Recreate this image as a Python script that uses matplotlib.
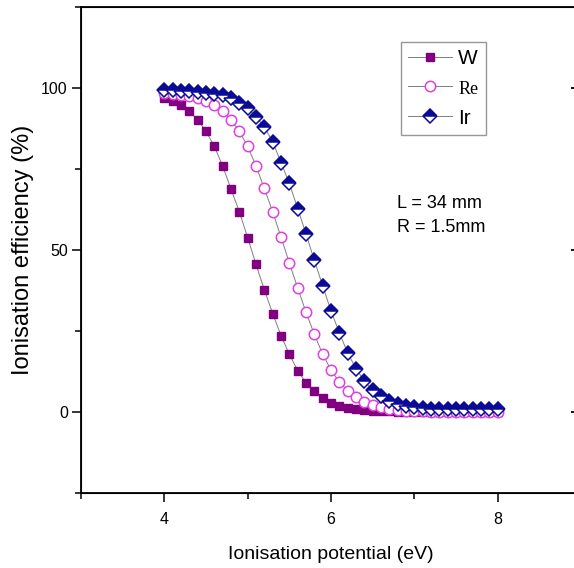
import numpy as np
import matplotlib
matplotlib.use('Agg')
import matplotlib.pyplot as plt
from matplotlib.ticker import MultipleLocator, FixedLocator

# ionisation potential (eV), 4.0 .. 8.0 in 0.1 steps
potential = np.round(np.arange(4.0, 8.01, 0.1), 1)

w_eff = [96.9, 95.9, 94.6, 92.8, 90.2, 86.6, 82.0, 75.9, 68.8, 61.8,
         53.8, 45.6, 37.7, 30.4, 23.6, 17.8, 12.8, 9.0, 6.4, 4.3,
         2.9, 2.0, 1.3, 0.9, 0.6, 0.4, 0.3, 0.2, 0.1, 0.1,
         0.1, 0.0, 0.0, 0.0, 0.0, 0.0, 0.0, 0.0, 0.0, 0.0, 0.0]
re_eff = [98.6, 98.3, 97.9, 97.4, 96.9, 95.9, 94.6, 92.8, 90.2, 86.6,
          82.0, 75.9, 69.0, 61.8, 54.0, 46.0, 38.3, 30.8, 24.0, 17.8,
          13.0, 9.2, 6.6, 4.5, 3.1, 2.1, 1.4, 0.9, 0.6, 0.4,
          0.3, 0.2, 0.1, 0.1, 0.1, 0.0, 0.0, 0.0, 0.0, 0.0, 0.0]
ir_eff = [99.4, 99.3, 99.2, 99.1, 98.9, 98.6, 98.3, 97.8, 96.9, 95.5,
          93.8, 91.1, 88.0, 83.4, 77.0, 70.6, 62.8, 55.0, 46.8, 39.0,
          31.2, 24.5, 18.2, 13.4, 9.5, 6.8, 4.8, 3.4, 2.4, 1.8,
          1.4, 1.2, 1.0, 0.9, 0.9, 0.8, 0.8, 0.8, 0.8, 0.8, 0.8]

plt.rcParams['font.family'] = ['Liberation Sans', 'DejaVu Sans']

fig = plt.figure(figsize=(5.74, 5.68), dpi=100)
# the plot frame runs past the right edge of the picture (x = 9 is off-canvas)
ax = fig.add_axes([81 / 574, 75 / 568, 500 / 574, 486 / 568])

line_kw = dict(color='#7f7f7f', linewidth=0.7)
ax.plot(potential, w_eff, marker='s', markersize=6, markerfacecolor='#800080',
        markeredgecolor='#800080', label='W', **line_kw)
ax.plot(potential, re_eff, marker='o', markersize=7.5, markerfacecolor='white',
        markeredgecolor='#e040e0', markeredgewidth=1.1, label='Re', **line_kw)
ax.plot(potential, ir_eff, marker='D', markersize=7, fillstyle='top',
        markerfacecolor='#0a0a96', markerfacecoloralt='white',
        markeredgecolor='#0a0a96', markeredgewidth=1.1, label='Ir', **line_kw)

ax.set_xlim(3, 9)
ax.set_ylim(-25, 125)
ax.xaxis.set_major_locator(FixedLocator([4, 6, 8]))
ax.xaxis.set_minor_locator(MultipleLocator(1))
ax.yaxis.set_major_locator(FixedLocator([0, 50, 100]))
ax.yaxis.set_minor_locator(MultipleLocator(25))
ax.tick_params(which='major', direction='out', length=6.5, width=1.1,
               labelsize=11.5, pad=3)
ax.tick_params(axis='x', which='major', pad=7)
ax.tick_params(which='minor', direction='out', length=4, width=1.1)
for s in ax.spines.values():
    s.set_linewidth(1.3)

# inward ticks on the right frame
ax_r = ax.twinx()
ax_r.set_ylim(ax.get_ylim())
ax_r.yaxis.set_major_locator(FixedLocator([0, 50, 100]))
ax_r.yaxis.set_minor_locator(MultipleLocator(25))
ax_r.tick_params(which='major', direction='in', length=7, width=1.3, labelright=False)
ax_r.tick_params(which='minor', direction='in', length=3, width=1.0)

ax.set_xlabel('Ionisation potential (eV)', fontsize=14, labelpad=14)
ax.set_ylabel('Ionisation efficiency (%)', fontsize=17, labelpad=5)

leg = ax.legend(loc='upper left', bbox_to_anchor=(320 / 500, 1 - 35 / 486),
                frameon=True, fancybox=False, fontsize=15, handlelength=2.1,
                borderpad=0.35, labelspacing=0.52, handletextpad=0.3,
                borderaxespad=0)
leg.get_frame().set_edgecolor('#7f7f7f')
leg.get_frame().set_linewidth(1.0)
leg.get_texts()[1].set_family('Liberation Serif')
leg.get_texts()[1].set_fontsize(13)

fig.text(397 / 574, 1 - 203 / 568, 'L = 34 mm', fontsize=13, va='center')
fig.text(397 / 574, 1 - 227 / 568, 'R = 1.5mm', fontsize=13, va='center')

fig.savefig('out.png', dpi=100)
